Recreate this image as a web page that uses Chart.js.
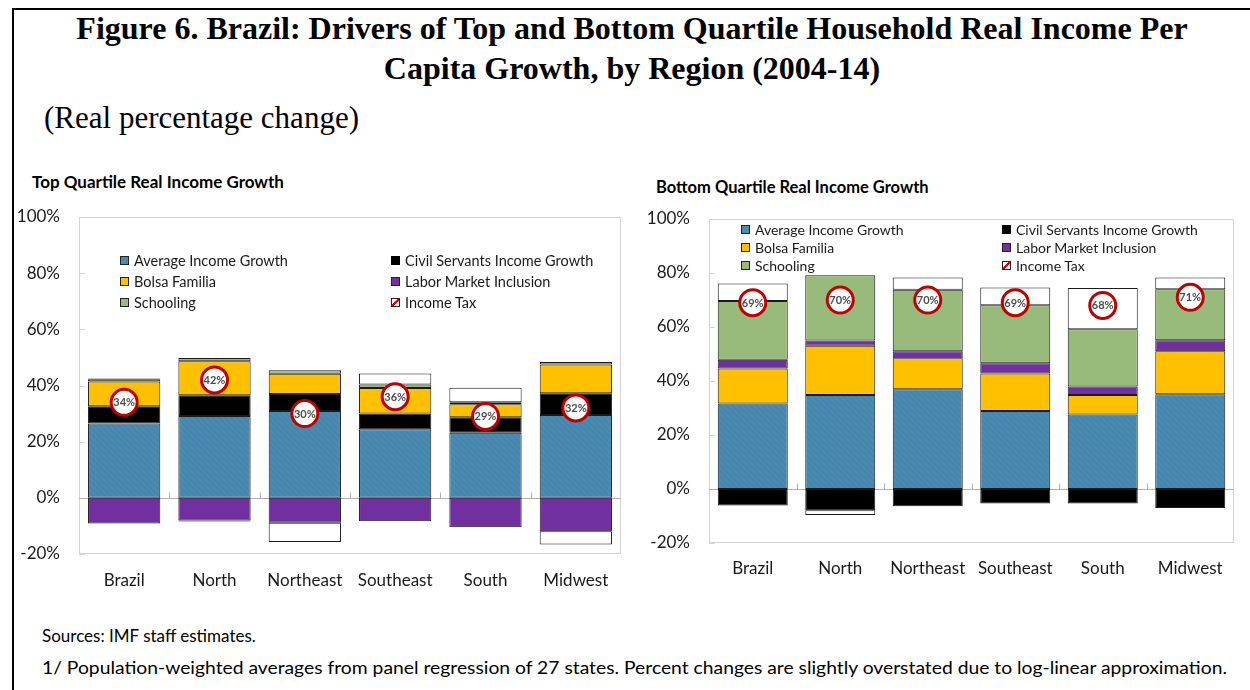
<!DOCTYPE html>
<html>
<head>
<meta charset="utf-8">
<script src="https://cdn.jsdelivr.net/npm/chart.js@4.4.1/dist/chart.umd.min.js"></script>
<style>
  body { margin: 0; width: 1250px; height: 690px; background: #fff; position: relative; overflow: hidden; font-family: Lato, "Open Sans", sans-serif; color: #1a1a1a; }
  .frame { position: absolute; left: 12px; top: 8px; width: 1240px; height: 690px; border-left: 2px solid #000; border-top: 2px solid #000; }
  .title { position: absolute; left: 14px; width: 1236px; top: 8px; text-align: center; font: bold 32px "Liberation Serif", "Times New Roman", serif; line-height: 40px; color: #000; }
  .sub { position: absolute; left: 44px; top: 100px; font: 31px "Liberation Serif", "Times New Roman", serif; line-height: 36px; color: #000; }
  .ctitle { position: absolute; font-weight: bold; line-height: 20px; color: #000; white-space: nowrap; }
  .note { position: absolute; left: 42px; line-height: 22px; white-space: nowrap; transform-origin: left center; color: #000; }
  canvas { position: absolute; }
  .leg { position: absolute; font-size: 14.5px; line-height: 18px; white-space: nowrap; color: #1a1a1a; }
  .leg i { position: absolute; left: -14px; top: 4px; width: 9px; height: 9px; box-sizing: border-box; border: 1px solid #222; }
</style>
</head>
<body>
<div class="frame"></div>
<div class="title">Figure 6. Brazil: Drivers of Top and Bottom Quartile Household Real Income Per<br>Capita Growth, by Region (2004-14)</div>
<div class="sub">(Real percentage change)</div>
<div class="ctitle" style="left:32px;top:172px;font-size:17px">Top Quartile Real Income Growth</div>
<div class="ctitle" style="left:656px;top:177px;font-size:16.5px">Bottom Quartile Real Income Growth</div>
<canvas id="top" width="630" height="395" style="left:0;top:205px"></canvas>
<canvas id="bottom" width="610" height="395" style="left:640px;top:205px"></canvas>
<div class="note" id="n1" style="top:625px;font-size:17px">Sources: IMF staff estimates.</div>
<div class="note" id="n2" style="top:656px;font-size:18px">1/ Population-weighted averages from panel regression of 27 states. Percent changes are slightly overstated due to log-linear approximation.</div>
<script>
const regions = ["Brazil", "North", "Northeast", "Southeast", "South", "Midwest"];
const seriesNames = ["Average Income Growth", "Civil Servants Income Growth", "Bolsa Familia",
  "Labor Market Inclusion", "Schooling", "Income Tax"];
const yTicks = [-20, 0, 20, 40, 60, 80, 100];

// top quartile (percent)
const topAvg    = [26.5, 29.1, 30.9, 24.4, 23.2, 29.5];
const topCivil  = [6.1, 7.4, 6.1, 5.6, 5.5, 7.7];
const topBolsa  = [8.8, 12.1, 7.2, 9.1, 4.6, 10.3];
const topLabor  = [-9.1, -8.1, -8.9, -8.3, -10.5, -11.9];
const topSchool = [0.8, 1.2, 1.2, 1.3, 0.7, 0.9];
const topTax    = [0.3, -0.3, -6.8, 3.9, 5.2, -4.7];
const topNet    = [34, 42, 30, 36, 29, 32];

// bottom quartile (percent)
const botAvg    = [31.7, 34.8, 36.9, 28.9, 27.6, 35.1];
const botCivil  = [-6.1, -7.9, -6.4, -5.4, -5.4, -7.0];
const botBolsa  = [12.9, 18.3, 11.5, 13.9, 7.2, 15.9];
const botLabor  = [3.3, 1.9, 2.6, 3.8, 3.2, 4.1];
const botSchool = [21.7, 24.2, 22.8, 21.5, 21.2, 18.9];
const botTax    = [6.5, -1.7, 4.5, 6.5, 15.2, 4.3];
const botNet    = [69, 70, 70, 69, 68, 71];

Chart.defaults.font.family = "Lato, 'Open Sans', sans-serif";
Chart.defaults.color = "#1a1a1a";

function hatch(base, line) {
  const c = document.createElement("canvas");
  c.width = c.height = 6;
  const g = c.getContext("2d");
  g.fillStyle = base;
  g.fillRect(0, 0, 6, 6);
  g.strokeStyle = line;
  g.lineWidth = 1;
  g.beginPath(); g.moveTo(0, 0); g.lineTo(6, 6); g.stroke();
  return g.createPattern(c, "repeat");
}

const colors = ["#4a89b0", "#000000", "#ffc000", "#7030a0", "#98bb7b", "#ffffff"];
const fills = [hatch("#4a89b0", "#4580a5"), colors[1], colors[2], colors[3], colors[4], colors[5]];

// plot frame, zero line and little tick marks
const frame = {
  id: "frame",
  beforeDatasetsDraw(chart) {
    const { ctx, chartArea: a, scales: { x, y } } = chart;
    ctx.save();
    ctx.lineWidth = 1;
    ctx.strokeStyle = "#d4d4d4";
    ctx.strokeRect(a.left + 0.5, a.top + 0.5, a.width - 1, a.height - 1);
    ctx.beginPath();
    y.ticks.forEach(t => {
      const py = Math.round(y.getPixelForValue(t.value)) + 0.5;
      ctx.moveTo(a.left, py); ctx.lineTo(a.left + 6, py);
    });
    ctx.stroke();
    const y0 = Math.round(y.getPixelForValue(0)) + 0.5;
    ctx.strokeStyle = "#b0b0b0";
    ctx.beginPath();
    ctx.moveTo(a.left, y0); ctx.lineTo(a.right, y0);
    for (let i = 1; i < regions.length; i++) {
      const px = Math.round((x.getPixelForValue(i - 1) + x.getPixelForValue(i)) / 2) + 0.5;
      ctx.moveTo(px, y0); ctx.lineTo(px, y0 - 6);
    }
    ctx.stroke();
    ctx.restore();
  }
};

// percentages inside the red circles
const netLabels = {
  id: "netLabels",
  afterDatasetsDraw(chart) {
    const ctx = chart.ctx;
    ctx.save();
    ctx.font = "bold 11px Lato, sans-serif";
    ctx.fillStyle = "#4d4d4d";
    ctx.textAlign = "center";
    ctx.textBaseline = "middle";
    chart.data.datasets.forEach((ds, i) => {
      if (ds.type !== "line") return;
      chart.getDatasetMeta(i).data.forEach((pt, j) => {
        ctx.fillText(ds.data[j] + "%", pt.x, pt.y + 0.5);
      });
    });
    ctx.restore();
  }
};

function makeChart(id, series, net, lay) {
  const datasets = series.map((vals, i) => ({
    type: "bar",
    label: seriesNames[i],
    data: vals,
    backgroundColor: fills[i],
    borderColor: "#1a1a1a",
    borderWidth: 1,
    borderSkipped: false,
    barPercentage: 0.8,
    categoryPercentage: 1
  }));
  datasets.push({
    type: "line",
    label: "Net",
    data: net,
    stack: "net",
    order: -1,
    showLine: false,
    pointRadius: 13,
    pointBackgroundColor: "#ffffff",
    pointBorderColor: "#c00000",
    pointBorderWidth: 3
  });
  return new Chart(document.getElementById(id), {
    data: { labels: regions, datasets },
    options: {
      responsive: false,
      animation: false,
      devicePixelRatio: 1,
      layout: { autoPadding: false, padding: { top: lay.top, right: lay.right, left: 0, bottom: 0 } },
      plugins: { legend: { display: false }, tooltip: { enabled: false } },
      scales: {
        x: {
          stacked: true,
          grid: { display: false, drawTicks: false },
          border: { display: false },
          ticks: { font: { size: 17 }, color: "#1a1a1a", padding: lay.xPad, maxRotation: 0 },
          afterFit: s => { s.height = lay.xh; s.paddingLeft = s.paddingRight = 0; }
        },
        y: {
          stacked: true,
          min: -20, max: 100,
          afterBuildTicks: s => { s.ticks = yTicks.map(v => ({ value: v })); },
          grid: { display: false, drawTicks: false },
          border: { display: false },
          ticks: { font: { size: 17 }, color: "#1a1a1a", padding: 19, callback: v => v + "%" },
          afterFit: s => { s.width = lay.yw; s.paddingTop = s.paddingBottom = 0; }
        }
      }
    },
    plugins: [frame, netLabels]
  });
}

makeChart("top", [topAvg, topCivil, topBolsa, topLabor, topSchool, topTax], topNet,
  { top: 12, right: 9, yw: 79, xh: 46, xPad: 16 });
makeChart("bottom", [botAvg, botCivil, botBolsa, botLabor, botSchool, botTax], botNet,
  { top: 14, right: 16, yw: 69, xh: 57, xPad: 15 });

// legends, two columns inside each plot
function legend(cols, rows, fontSize) {
  seriesNames.forEach((name, i) => {
    const d = document.createElement("div");
    d.className = "leg";
    d.style.left = cols[i % 2] + "px";
    d.style.top = (rows[Math.floor(i / 2)] - 9) + "px";
    d.style.fontSize = fontSize + "px";
    const box = document.createElement("i");
    box.style.background = i === 5
      ? "linear-gradient(to bottom right, #fff 42%, #e00000 42%, #e00000 58%, #fff 58%)"
      : colors[i];
    if (i === 1) box.style.borderColor = "#000";
    d.appendChild(box);
    d.appendChild(document.createTextNode(name));
    document.body.appendChild(d);
  });
}
legend([134, 405], [261, 282, 303], 14.5);
legend([755, 1016], [230, 248, 266], 14);

// fit footnote to the printed width
const n2 = document.getElementById("n2");
n2.style.transform = "scaleX(" + (1185 / n2.scrollWidth) + ")";
</script>
</body>
</html>
